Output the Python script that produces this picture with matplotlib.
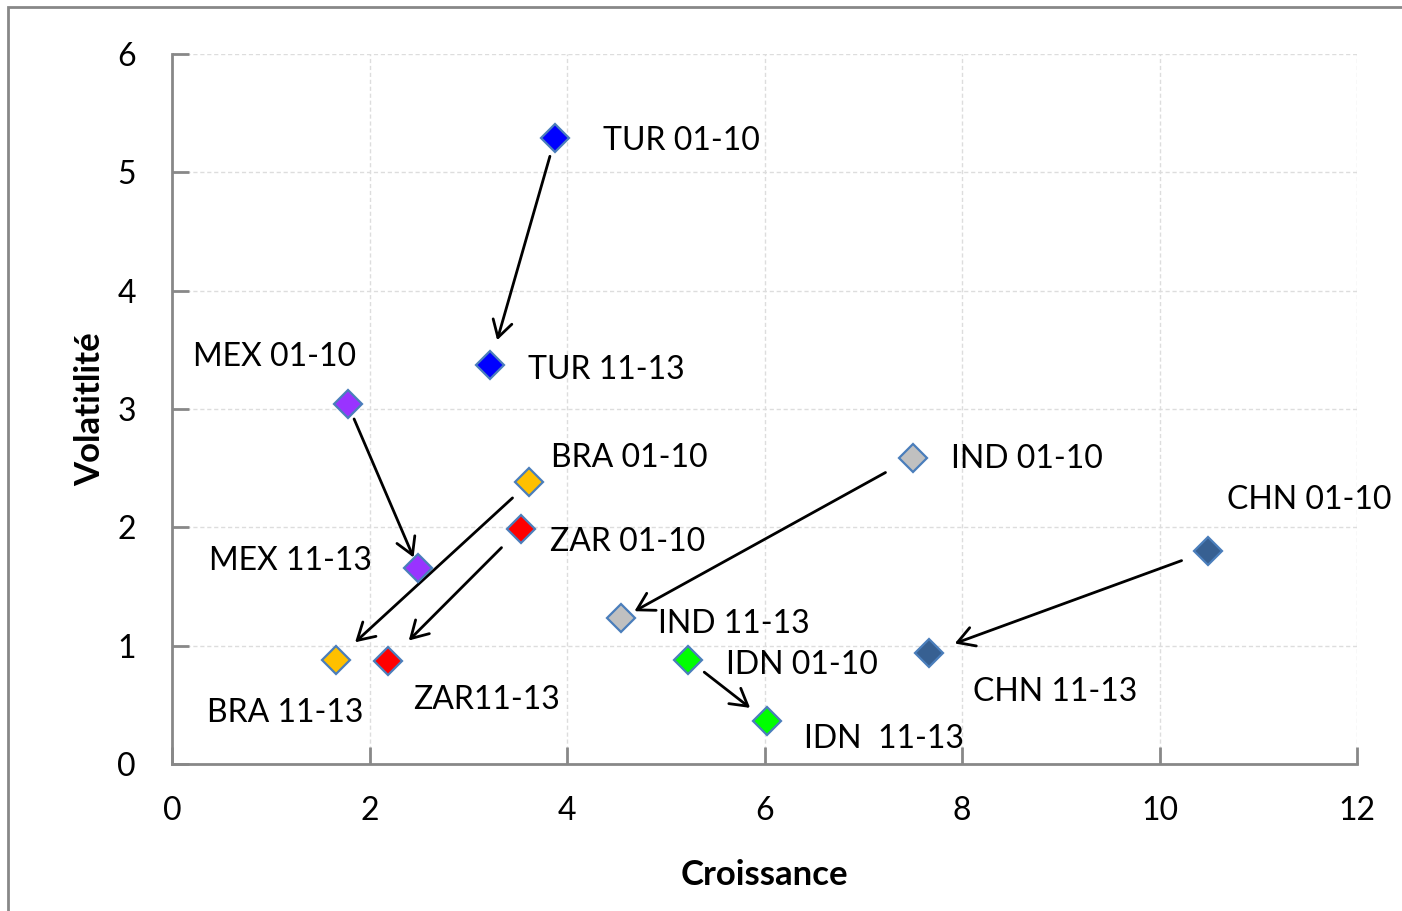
import numpy as np
import matplotlib
matplotlib.use('Agg')
import matplotlib.pyplot as plt
from matplotlib.patches import Rectangle

plt.rcParams['font.family'] = ['Lato', 'DejaVu Sans']

# data
labels = ['TUR 01-10', 'TUR 11-13', 'MEX 01-10', 'MEX 11-13', 'BRA 01-10', 'BRA 11-13',
          'ZAR 01-10', 'ZAR11-13', 'IND 01-10', 'IND 11-13', 'IDN 01-10', 'IDN  11-13',
          'CHN 01-10', 'CHN 11-13']
croissance = [3.88, 3.22, 1.78, 2.49, 3.62, 1.66, 3.53, 2.19, 7.50, 4.55, 5.23, 6.03, 10.49, 7.67]
volatilite = [5.29, 3.37, 3.04, 1.66, 2.38, 0.88, 1.99, 0.87, 2.59, 1.23, 0.88, 0.36, 1.80, 0.94]
colors = ['#0000FF', '#0000FF', '#9933FF', '#9933FF', '#FFC000', '#FFC000', '#FF0000', '#FF0000',
          '#C0C0C0', '#C0C0C0', '#00FF00', '#00FF00', '#376092', '#376092']

# label offsets in pixels (dx, dy, ha)
offsets = [(48, -3, 'left'), (38, -5, 'left'), (-155, 47, 'left'), (-46, 7, 'right'),
           (22, 24, 'left'), (-129, -53, 'left'), (29, -13, 'left'), (25, -39, 'left'),
           (38, -1, 'left'), (37, -6, 'left'), (38, -5, 'left'), (37, -18, 'left'),
           (19, 51, 'left'), (44, -39, 'left')]

# arrows: (from index, to index, shrink start px, shrink end px)
arrows = [(0, 1, 19, 26), (2, 3, 16, 11), (4, 5, 23, 26), (6, 7, 27, 29),
          (8, 9, 31, 15), (10, 11, 20, 22), (12, 13, 28, 27)]

fig = plt.figure(figsize=(14.02, 9.11), dpi=100)
ax = fig.add_axes([172/1402, 147/911, 1185/1402, 710/911])

for x, y, c in zip(croissance, volatilite, colors):
    ax.plot(x, y, marker='D', ms=14, color=c, mec='#4A7EBB', mew=1.6, ls='none', zorder=4)

for i, lab in enumerate(labels):
    dx, dy, ha = offsets[i]
    ax.annotate(lab, xy=(croissance[i], volatilite[i]), xytext=(dx, dy),
                textcoords='offset pixels', ha=ha, va='center', fontsize=23, color='black')

for a, b, sa, sb in arrows:
    ax.annotate('', xy=(croissance[b], volatilite[b]), xytext=(croissance[a], volatilite[a]),
                arrowprops=dict(arrowstyle='->,head_length=0.6,head_width=0.35', mutation_scale=20,
                                color='black', lw=2, shrinkA=sa*0.72, shrinkB=sb*0.72), zorder=3)

ax.set_xlim(0, 12)
ax.set_ylim(0, 6)
ax.set_xticks(np.arange(0, 13, 2))
ax.set_yticks(np.arange(0, 7, 1))
ax.grid(True, color='#DDDDDD', ls=(0, (3, 2)), lw=1)
ax.set_axisbelow(True)
for s in ['top', 'right']:
    ax.spines[s].set_visible(False)
for s in ['left', 'bottom']:
    ax.spines[s].set_color('#888888')
    ax.spines[s].set_linewidth(2)
ax.tick_params(direction='in', length=12, width=2, color='#888888', labelsize=23)
ax.tick_params(axis='y', pad=26)
ax.tick_params(axis='x', pad=23)
ax.set_xlabel('Croissance', fontsize=25, fontweight='bold', labelpad=24)
ax.set_ylabel('Volatitlité', fontsize=25, fontweight='bold', labelpad=8)

# outer chart border
fig.patches.append(Rectangle((8/1402, -0.1), 1.2, 904/911 + 0.1, transform=fig.transFigure,
                             fill=False, ec='#888888', lw=2))

fig.savefig('out.png', dpi=100)
